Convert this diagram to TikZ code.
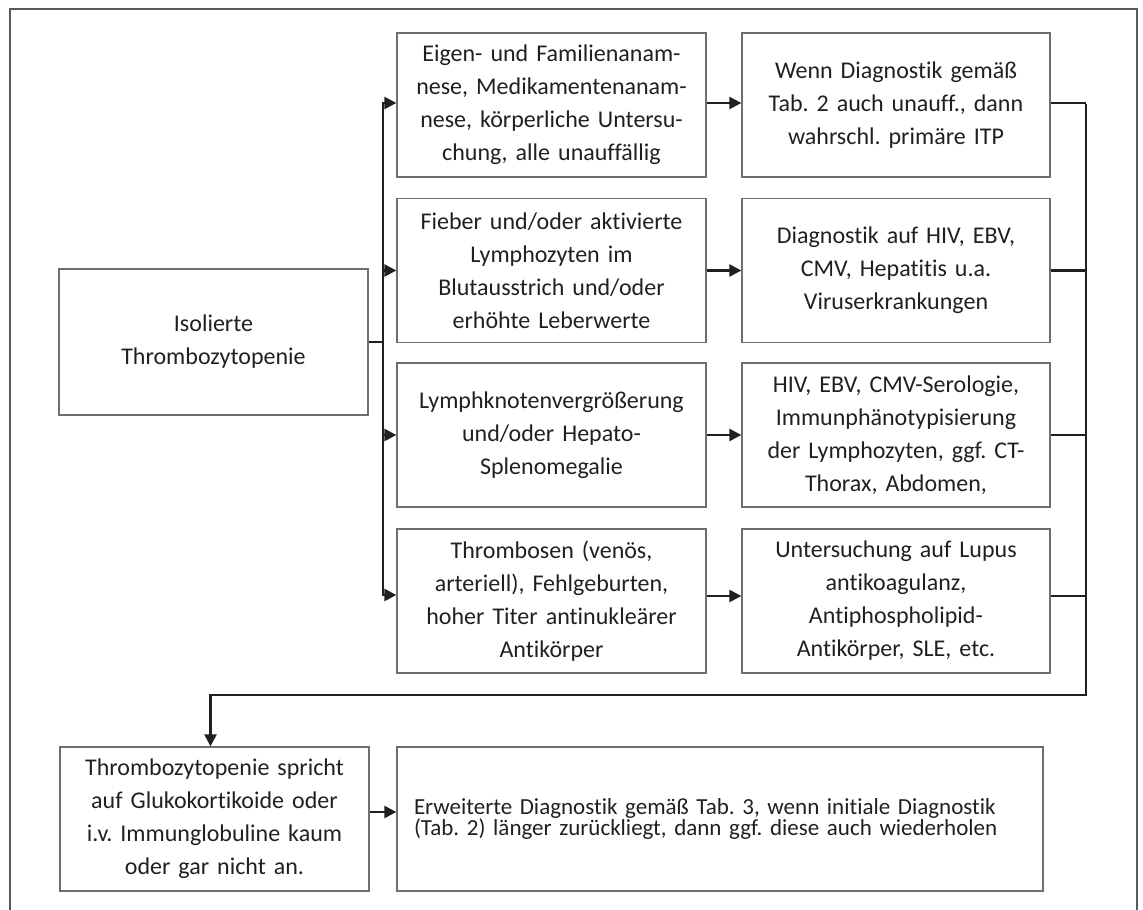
\documentclass[tikz,border=0pt]{standalone}
\usepackage{fontspec}
\setmainfont[Ligatures={NoCommon,NoContextual}]{Carlito}
\usetikzlibrary{arrows.meta}
\definecolor{boxgray}{HTML}{6F6F6F}
\definecolor{framegray}{HTML}{5A5A5A}
\definecolor{ink}{HTML}{231F20}
\newcommand{\tightlines}{\lineskiplimit=-50pt\relax}
\frenchspacing

\begin{document}
\begin{tikzpicture}[x=1pt,y=-1pt,
  box/.style={draw=boxgray, line width=1.3pt, minimum width=309pt,
    minimum height=144pt, inner sep=0pt, align=center, text width=300pt,
    font=\fontsize{24}{33}\selectfont, text=ink},
  widebox/.style={box, minimum width=646pt, text width=612pt, align=left,
    font=\fontsize{23}{20}\selectfont},
  link/.style={draw=ink, line width=2.4pt},
  arr/.style={link, -{Triangle[length=12pt,width=12pt]}}]

\useasboundingbox (0,0) rectangle (1143,910);

% outer frame, open at the bottom
\draw[framegray, line width=1.8pt] (10,915) -- (10,9) -- (1137,9) -- (1137,915);

% start node
\node[box, minimum height=146pt] (iso) at (213.5,342) {Isolierte\\Thrombozytopenie};

% findings
\node[box] (a1) at (551.5,105) {Eigen- und Familienanam-\\nese, Medikamentenanam-\\nese, körperliche Untersu-\\chung, alle unauffällig};
\node[box] (a2) at (551.5,270.5) {Fieber und/oder aktivierte\\Lymphozyten im\\Blutausstrich und/oder\\erhöhte Leberwerte};
\node[box] (a3) at (551.5,435) {Lymphknotenvergrößerung\\und/oder Hepato-\\Splenomegalie};
\node[box] (a4) at (551.5,601) {Thrombosen (venös,\\arteriell), Fehlgeburten,\\hoher Titer antinukleärer\\Antikörper};

% diagnostics
\node[box, minimum width=308pt] (b1) at (896,105) {Wenn Diagnostik gemäß\\Tab. 2 auch unauff., dann\\wahrschl. primäre ITP};
\node[box, minimum width=308pt] (b2) at (896,270.5) {Diagnostik auf HIV, EBV,\\CMV, Hepatitis u.a.\\Viruserkrankungen};
\node[box, minimum width=308pt] (b3) at (896,435) {HIV, EBV, CMV-Serologie,\\Immunphänotypisierung\\der Lymphozyten, ggf. CT-\\Thorax, Abdomen,};
\node[box, minimum width=308pt] (b4) at (896,601) {Untersuchung auf Lupus\\antikoagulanz,\\Antiphospholipid-\\Antikörper, SLE, etc.};

% refractory course
\node[box] (bl) at (214.5,819) {Thrombozytopenie spricht\\auf Glukokortikoide oder\\i.v. Immunglobuline kaum\\oder gar nicht an.};
\node[widebox] (br) at (720,819) {\tightlines Erweiterte Diagnostik gemäß Tab. 3, wenn initiale Diagnostik\\(Tab. 2) länger zurückliegt, dann ggf. diese auch wiederholen};

% left distribution bus
\coordinate (bus) at (383,342);
\draw[link] (iso.east) -- (bus);
\draw[link, line cap=rect] ([yshift=2pt]bus |- a1.west) -- ([yshift=6pt]bus |- a4.west);
\draw[arr] ([yshift=2pt]bus |- a1.west) -- ([yshift=2pt]a1.west);
\draw[arr] (bus |- a2.west) -- (a2.west);
\draw[arr] (bus |- a3.west) -- (a3.west);
\draw[arr] ([yshift=6pt]bus |- a4.west) -- ([yshift=6pt]a4.west);

% findings to diagnostics
\draw[arr] ([yshift=2pt]a1.east) -- ([yshift=2pt]b1.west);
\draw[arr] (a2.east) -- (b2.west);
\draw[arr] (a3.east) -- (b3.west);
\draw[arr] ([yshift=5pt]a4.east) -- ([yshift=5pt]b4.west);

% right collecting bus
\coordinate (rbus) at (1086,0);
\coordinate (turn) at (1086,695);
\draw[link] ([yshift=2pt]b1.east) -- ([yshift=2pt]rbus |- b1.east);
\draw[link] (b2.east) -- (rbus |- b2.east);
\draw[link] (b3.east) -- (rbus |- b3.east);
\draw[link] ([yshift=5pt]b4.east) -- ([yshift=5pt]rbus |- b4.east);
\draw[arr, line join=miter] ([yshift=0.8pt]rbus |- b1.east) -- (turn) -| ([xshift=-4pt]bl.north);

% to the extended diagnostics
\draw[arr] ([yshift=7pt]bl.east) -- ([yshift=7pt]br.west);

\end{tikzpicture}
\end{document}
